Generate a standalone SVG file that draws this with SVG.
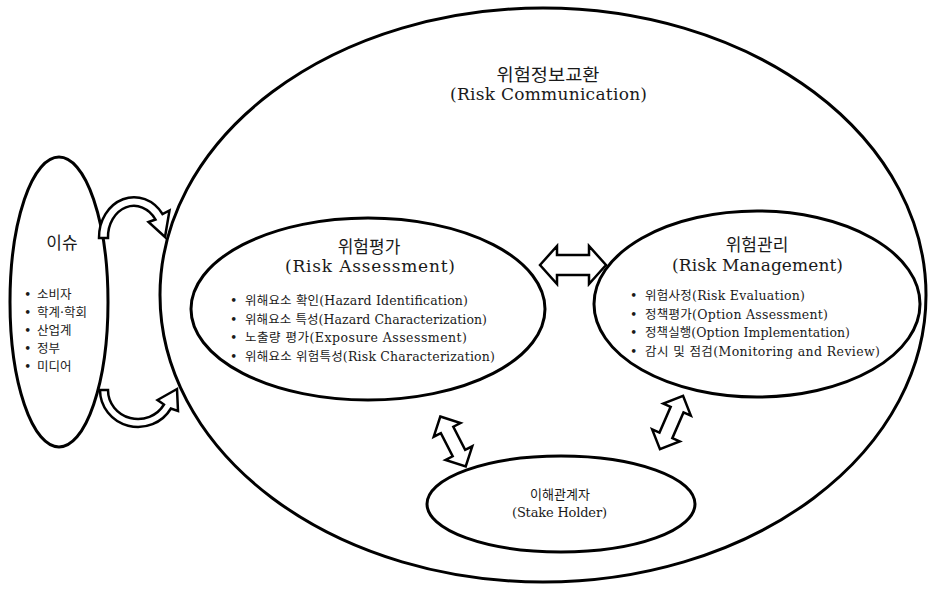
<svg xmlns="http://www.w3.org/2000/svg" width="930" height="590" viewBox="0 0 930 590">
  <style>
    .ring { fill: none; stroke: #000; stroke-width: 3; }
    .arrow { fill: #fff; stroke: #000; stroke-width: 2.5; stroke-linejoin: miter; }
    .t { font-family: "DejaVu Serif", "Noto Sans CJK KR", serif; fill: #1a1a1a; }
    .title { font-size: 17px; text-anchor: middle; }
    .item { font-size: 12.5px; }
    .small { font-size: 13px; text-anchor: middle; }
  </style>
  <rect width="930" height="590" fill="#fff"/>

  <!-- outer circle: risk communication -->
  <g id="communication">
    <ellipse class="ring" cx="543" cy="295" rx="383" ry="287"/>
    <text class="t title" x="548" y="81" textLength="103" lengthAdjust="spacingAndGlyphs">위험정보교환</text>
    <text class="t title" x="548.5" y="100" textLength="197" lengthAdjust="spacing">(Risk Communication)</text>
  </g>

  <!-- issue sources on the left -->
  <g id="issue">
    <ellipse class="ring" cx="59" cy="302" rx="49" ry="145"/>
    <text class="t title" x="62" y="249">이슈</text>
    <text class="t item" y="299"><tspan x="24">•</tspan><tspan x="37">소비자</tspan></text>
    <text class="t item" y="317"><tspan x="24">•</tspan><tspan x="37">학계·학회</tspan></text>
    <text class="t item" y="335"><tspan x="24">•</tspan><tspan x="37">산업계</tspan></text>
    <text class="t item" y="353"><tspan x="24">•</tspan><tspan x="37">정부</tspan></text>
    <text class="t item" y="371"><tspan x="24">•</tspan><tspan x="37">미디어</tspan></text>
  </g>

  <!-- risk assessment -->
  <g id="assessment">
    <ellipse class="ring" cx="368" cy="309" rx="177" ry="91"/>
    <text class="t title" x="369" y="253">위험평가</text>
    <text class="t title" x="370" y="272" textLength="170" lengthAdjust="spacing">(Risk Assessment)</text>
    <text class="t item" y="305"><tspan x="230">•</tspan><tspan x="245" textLength="223" lengthAdjust="spacing">위해요소 확인(Hazard Identification)</tspan></text>
    <text class="t item" y="323.5"><tspan x="230">•</tspan><tspan x="245" textLength="242" lengthAdjust="spacing">위해요소 특성(Hazard Characterization)</tspan></text>
    <text class="t item" y="342"><tspan x="230">•</tspan><tspan x="245" textLength="222" lengthAdjust="spacing">노출량 평가(Exposure Assessment)</tspan></text>
    <text class="t item" y="361"><tspan x="230">•</tspan><tspan x="245" textLength="250" lengthAdjust="spacing">위해요소 위험특성(Risk Characterization)</tspan></text>
  </g>

  <!-- risk management -->
  <g id="management">
    <ellipse class="ring" cx="757" cy="304" rx="163" ry="93"/>
    <text class="t title" x="757" y="251">위험관리</text>
    <text class="t title" x="757.5" y="271" textLength="171" lengthAdjust="spacing">(Risk Management)</text>
    <text class="t item" y="300"><tspan x="630">•</tspan><tspan x="645" textLength="160" lengthAdjust="spacing">위험사정(Risk Evaluation)</tspan></text>
    <text class="t item" y="318.5"><tspan x="630">•</tspan><tspan x="645" textLength="183" lengthAdjust="spacing">정책평가(Option Assessment)</tspan></text>
    <text class="t item" y="337"><tspan x="630">•</tspan><tspan x="645" textLength="205" lengthAdjust="spacing">정책실행(Option Implementation)</tspan></text>
    <text class="t item" y="355.5"><tspan x="630">•</tspan><tspan x="645" textLength="235" lengthAdjust="spacing">감시 및 점검(Monitoring and Review)</tspan></text>
  </g>

  <!-- stakeholders -->
  <g id="stakeholder">
    <ellipse class="ring" cx="561" cy="504" rx="134" ry="48"/>
    <text class="t small" x="560" y="499">이해관계자</text>
    <text class="t small" x="559.5" y="517" textLength="95" lengthAdjust="spacing">(Stake Holder)</text>
  </g>

  <!-- connectors -->
  <g id="connectors">
    <!-- curved arrow: issue to communication -->
    <path class="arrow" d="M99 238 A35 40 0 0 1 162.5 214 L169.5 210.5 L165 237 L148.5 222 L155.5 219.5 A26 31 0 0 0 108 238 Z"/>
    <!-- curved arrow: communication back to issue -->
    <path class="arrow" d="M100 390 A38 37 0 0 0 170.9 408.5 L178 411 L177 389 L157.5 400 L164 404.5 A30 29 0 0 1 108 390 Z"/>
    <!-- assessment <-> management -->
    <path class="arrow" d="M540 265 L557 246 L557 255 L589 255 L589 246 L606 265 L589 284 L589 275 L557 275 L557 284 Z"/>
    <!-- assessment <-> stakeholder -->
    <path class="arrow" transform="translate(453 441.5) rotate(63)" d="M-28 0 L-13 -15 L-13 -7 L13 -7 L13 -15 L28 0 L13 15 L13 7 L-13 7 L-13 15 Z"/>
    <!-- management <-> stakeholder -->
    <path class="arrow" transform="translate(671.5 422.5) rotate(-66.5)" d="M-29 0 L-14 -15 L-14 -7 L14 -7 L14 -15 L29 0 L14 15 L14 7 L-14 7 L-14 15 Z"/>
  </g>
</svg>
